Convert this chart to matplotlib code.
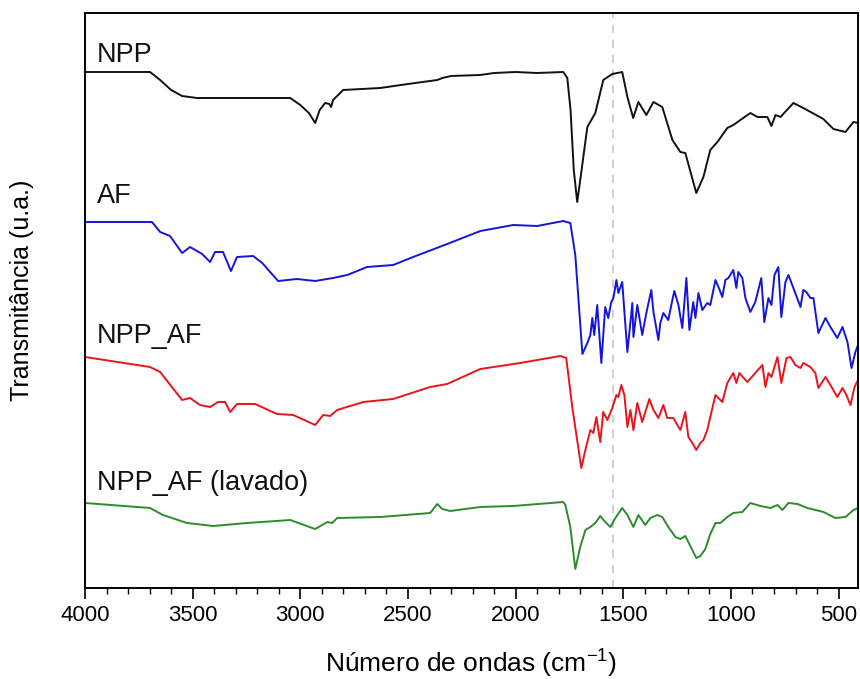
import matplotlib
matplotlib.use("Agg")
import matplotlib.pyplot as plt
from matplotlib.ticker import MultipleLocator

# ---------------- data (wavenumber cm-1, transmittance a.u.) ----------------
npp_wn = [4000, 3698, 3651, 3600, 3549, 3480, 3300, 3047, 3000, 2960, 2931, 2910, 2885, 2865, 2857, 2848,
          2801, 2629, 2500, 2364, 2340, 2300, 2165, 2100, 2000, 1900, 1779, 1760, 1745, 1730, 1714, 1700,
          1667, 1630, 1593, 1551, 1505, 1481, 1454, 1430, 1393, 1360, 1319, 1272, 1235, 1212, 1161, 1128,
          1096, 1063, 1017, 989, 910, 877, 831, 812, 793, 770, 710, 664, 571, 524, 468, 431, 410]
npp_t = [516, 516, 508, 498, 492, 490, 490, 490, 483, 475, 465, 478, 485, 484, 481, 488,
         498, 500, 504, 508, 510, 512, 513, 515, 516, 515, 516, 510, 478, 418, 386, 408,
         461, 475, 508, 514, 516, 491, 470, 486, 473, 486, 481, 448, 436, 435, 395, 411,
         438, 446, 460, 463, 475, 471, 471, 462, 473, 471, 485, 480, 469, 459, 456, 466, 465]

af_wn = [4000, 3689, 3651, 3605, 3549, 3512, 3456, 3419, 3396, 3359, 3322, 3294, 3219, 3177, 3103, 3015,
         2931, 2848, 2782, 2690, 2569, 2476, 2318, 2164, 2011, 1900, 1779, 1746, 1723, 1690, 1667, 1653,
         1644, 1635, 1621, 1602, 1584, 1570, 1556, 1546, 1532, 1523, 1505, 1481, 1458, 1453, 1435, 1412,
         1393, 1370, 1360, 1337, 1328, 1314, 1291, 1277, 1263, 1244, 1226, 1207, 1193, 1175, 1165, 1151,
         1133, 1110, 1096, 1072, 1058, 1040, 1026, 1012, 989, 975, 966, 947, 933, 910, 887, 859,
         845, 826, 812, 798, 780, 766, 747, 733, 710, 677, 664, 650, 631, 617, 594, 561,
         538, 506, 482, 459, 440, 422, 410]
af_t = [366, 366, 356, 352, 335, 341, 334, 326, 336, 336, 317, 331, 332, 325, 307, 309,
        307, 310, 313, 321, 323, 331, 344, 357, 363, 362, 367, 365, 333, 234, 245, 253,
        270, 253, 283, 225, 281, 270, 286, 290, 308, 295, 306, 236, 285, 251, 283, 253,
        275, 298, 276, 248, 265, 275, 268, 283, 297, 283, 260, 310, 258, 286, 270, 295,
        278, 285, 283, 308, 301, 291, 308, 310, 318, 300, 316, 310, 290, 276, 286, 310,
        266, 290, 283, 313, 321, 271, 306, 313, 300, 281, 298, 296, 290, 290, 255, 270,
        261, 250, 261, 246, 220, 236, 243]

nppaf_wn = [4000, 3698, 3651, 3549, 3512, 3466, 3419, 3382, 3349, 3326, 3294, 3210, 3108, 3033, 2931, 2894,
            2861, 2829, 2708, 2569, 2397, 2318, 2164, 1979, 1793, 1765, 1737, 1695, 1676, 1653, 1639, 1625,
            1607, 1593, 1574, 1551, 1532, 1523, 1509, 1495, 1481, 1467, 1453, 1435, 1412, 1379, 1360, 1337,
            1314, 1296, 1268, 1235, 1212, 1198, 1179, 1161, 1142, 1128, 1110, 1096, 1072, 1040, 1017, 989,
            975, 961, 924, 887, 854, 840, 826, 812, 784, 766, 742, 724, 701, 677, 664, 631,
            608, 594, 561, 538, 506, 482, 464, 445, 426, 410]
nppaf_t = [231, 221, 216, 188, 190, 183, 181, 186, 186, 176, 184, 184, 174, 173, 163, 173,
           172, 178, 186, 189, 201, 204, 219, 225, 232, 230, 181, 120, 138, 158, 155, 171,
           146, 176, 168, 180, 193, 191, 203, 193, 161, 178, 158, 185, 166, 189, 178, 170,
           183, 170, 170, 158, 176, 151, 145, 138, 145, 148, 158, 171, 193, 186, 205, 215,
           205, 215, 206, 215, 223, 201, 215, 211, 231, 205, 230, 231, 223, 220, 225, 221,
           215, 200, 211, 203, 191, 200, 193, 183, 201, 208]

lav_wn = [4000, 3698, 3638, 3526, 3405, 3247, 3047, 2931, 2875, 2852, 2829, 2629, 2397, 2364, 2341, 2304,
          2164, 2011, 1779, 1769, 1746, 1723, 1700, 1676, 1653, 1630, 1607, 1584, 1560, 1537, 1505, 1481,
          1453, 1430, 1398, 1374, 1342, 1319, 1291, 1258, 1235, 1212, 1198, 1161, 1142, 1119, 1096, 1072,
          1049, 1017, 989, 947, 910, 863, 817, 784, 761, 733, 691, 645, 570, 515, 468, 431, 410]
lav_t = [85, 80, 73, 65, 62, 65, 68, 59, 66, 65, 70, 71, 75, 84, 79, 77,
         81, 82, 86, 83, 61, 19, 41, 58, 61, 65, 72, 66, 61, 70, 80, 73,
         61, 73, 63, 70, 73, 71, 61, 51, 49, 52, 46, 30, 32, 39, 54, 65,
         65, 71, 75, 76, 85, 82, 80, 83, 78, 85, 84, 80, 76, 70, 71, 78, 80]

series_names = ["NPP", "AF", "NPP_AF", "NPP_AF (lavado)"]
series_colors = ["#111111", "#1414dc", "#e8141c", "#2c8c2c"]
label_y = [526, 385, 245, 98]
marker_wn = 1550
xticks = [4000, 3500, 3000, 2500, 2000, 1500, 1000, 500]

# ---------------- figure ----------------
plt.rcParams['font.family'] = ['Liberation Sans', 'DejaVu Sans']
fig = plt.figure(figsize=(8.6, 6.79), dpi=100)
ax = fig.add_axes([85/860, 91/679, 773/860, 575/679])

data = [(npp_wn, npp_t), (af_wn, af_t), (nppaf_wn, nppaf_t), (lav_wn, lav_t)]
for (wn, t), c in zip(data, series_colors):
    ax.plot(wn, t, color=c, lw=1.4)

for name, y in zip(series_names, label_y):
    ax.text(3944, y, name, fontsize=19.5, va='baseline', ha='left', color='#111111')

ax.axvline(marker_wn, color='#c8c8c8', lw=1.2, ls=(0, (5, 4)), zorder=0)

ax.set_xlim(4000, 410)
ax.set_ylim(0, 575)
ax.set_xticks(xticks)
ax.xaxis.set_minor_locator(MultipleLocator(100))
ax.tick_params(axis='x', which='major', direction='out', length=8, width=1.2, labelsize=16, pad=4)
ax.tick_params(axis='x', which='minor', direction='out', length=4.5, width=1.0)
ax.set_yticks([])
for s in ax.spines.values():
    s.set_linewidth(1.4)

ax.set_xlabel(r'Número de ondas (cm$^{\mathregular{-1}}$)', fontsize=19, labelpad=15)
ax.set_ylabel('Transmitância (u.a.)', fontsize=18)
ax.yaxis.set_label_coords(-0.066, 0.517)

fig.savefig('out.png', dpi=100)
